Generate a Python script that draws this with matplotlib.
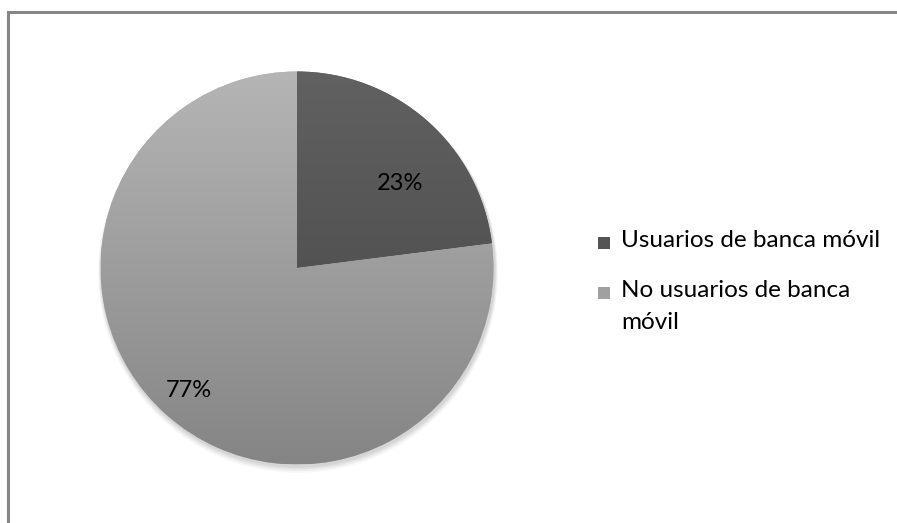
import numpy as np
import matplotlib
matplotlib.use("Agg")
import matplotlib.pyplot as plt
from matplotlib.patches import Rectangle, Circle

plt.rcParams['font.family'] = ['Lato', 'DejaVu Sans']

labels = ["Usuarios de banca móvil", "No usuarios de banca\nmóvil"]
values = [23, 77]
pct_labels = ["23%", "77%"]
top_colors = ["#616161", "#b5b5b5"]
bottom_colors = ["#444444", "#858585"]

W, H = 897, 523
fig = plt.figure(figsize=(W / 100, H / 100), dpi=100)
ax = fig.add_axes([0, 0, 1, 1])

cx, cy, r = 297, H - 268, 196.5

# soft shadow under the pie
for i, a in enumerate([0.05, 0.05, 0.04, 0.03]):
    ax.add_patch(Circle((cx + 1, cy - 2 - i), r + 1 + i * 0.8, color="black", alpha=a, lw=0, zorder=1))

wedges, _ = ax.pie(values, center=(cx, cy), radius=r, startangle=90,
                   counterclock=False, colors=top_colors,
                   wedgeprops=dict(linewidth=0, zorder=2), frame=True)
ax.set_xlim(0, W)
ax.set_ylim(0, H)
ax.set_aspect('equal')
ax.axis('off')

# vertical gradient inside each wedge
for w, c0, c1 in zip(wedges, top_colors, bottom_colors):
    cmap = matplotlib.colors.LinearSegmentedColormap.from_list("g", [c1, c0])
    grad = np.linspace(0, 1, 256).reshape(-1, 1)
    im = ax.imshow(grad, cmap=cmap, origin="lower", aspect="auto",
                   extent=(cx - r, cx + r, cy - r, cy + r), zorder=3)
    im.set_clip_path(w)

# percentage labels (Excel best-fit placement)
label_pos = [(0.68, 39.5), (0.83, -131.4)]
for txt, (d, ang) in zip(pct_labels, label_pos):
    a = np.deg2rad(ang)
    ax.text(cx + d * r * np.cos(a), cy + d * r * np.sin(a), txt,
            ha="center", va="center", fontsize=17, color="black", zorder=5)

# legend
leg_y = [H - 243, H - 293]
for lab, col, y in zip(labels, ["#555555", "#a0a0a0"], leg_y):
    ax.add_patch(Rectangle((598, y - 6), 12, 12, color=col, lw=0, zorder=5))
    ax.text(621, y + 13, lab, ha="left", va="top", fontsize=17.5,
            linespacing=1.65, color="black", zorder=5)

# chart area border (clipped at right/bottom like the source)
ax.add_patch(Rectangle((8, -20), W + 40, H - 11.5 + 20, fill=False,
                       edgecolor="#868686", lw=2.2, zorder=6, clip_on=False))

fig.savefig("out.png", dpi=100)
